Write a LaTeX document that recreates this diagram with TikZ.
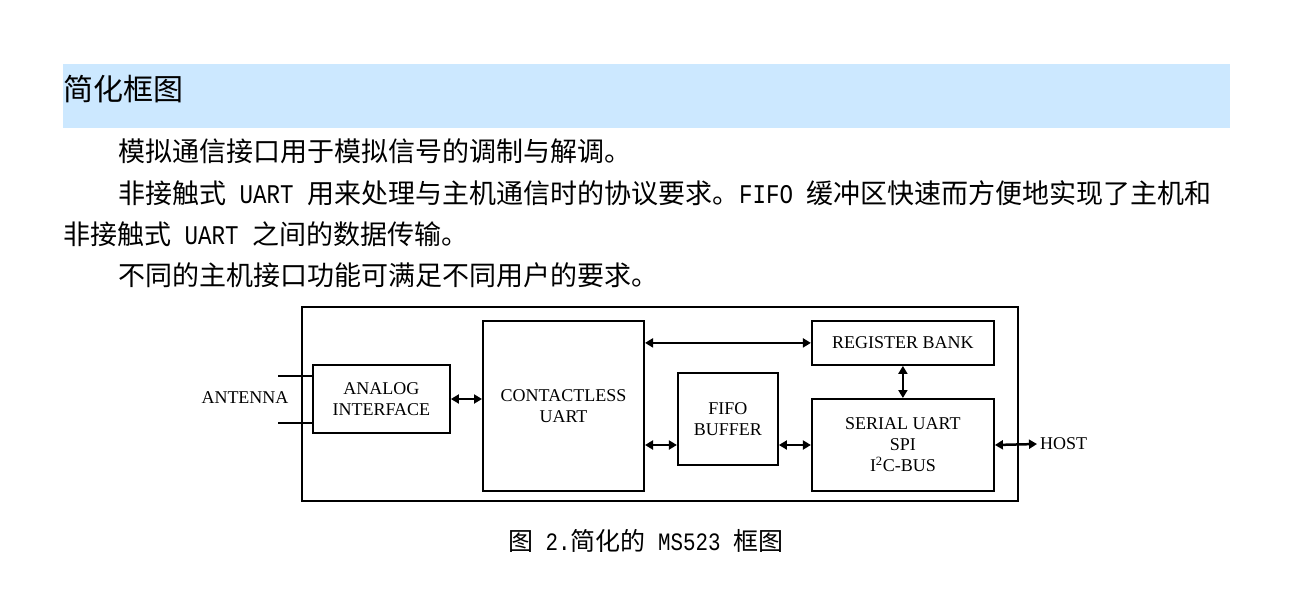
\documentclass[tikz,border=0pt]{standalone}
\usepackage{fontspec}
\setmainfont{Liberation Serif}
\newfontfamily\cjk{Noto Sans CJK SC}
\newfontfamily\halfmono{Liberation Mono}[FakeStretch=0.8333]
\newcommand{\hw}[1]{{\halfmono #1}}
\usetikzlibrary{arrows.meta,positioning}
\definecolor{bandblue}{HTML}{CCE8FF}

\begin{document}
\begin{tikzpicture}[x=1pt, y=-1pt, >={Triangle[length=8pt,width=9pt]},
  blk/.style={draw, line width=2pt, align=center, inner sep=0pt, font=\fontsize{18}{21}\selectfont},
  lnk/.style={<->, line width=2.5pt},
  para/.style={anchor=base west, inner sep=0pt, font=\cjk\fontsize{27}{27}\selectfont}]
  \useasboundingbox (0,0) rectangle (1312,605);
  \fill[bandblue] (63,64) rectangle (1230,128);
  \node[anchor=base west, inner sep=0pt, font=\cjk\fontsize{30}{30}\selectfont] (title) at (63,100) {简化框图};
  \node[para] (l1) at (118,161.6) {模拟通信接口用于模拟信号的调制与解调。};
  \node[para] (l2) at (118,203) {非接触式\hw{\ UART\ }用来处理与主机通信时的协议要求。\hw{FIFO\ }缓冲区快速而方便地实现了主机和};
  \node[para] (l3) at (63,244) {非接触式\hw{\ UART\ }之间的数据传输。};
  \node[para] (l4) at (118,285) {不同的主机接口功能可满足不同用户的要求。};

  \node[draw, line width=2.5pt, minimum width=716pt, minimum height=194pt] (chip) at (660,404) {};
  \node[blk, minimum width=137pt, minimum height=68pt] (analog) at (381.4,399) {ANALOG\\INTERFACE};
  \node[blk, minimum width=161pt, minimum height=170pt] (cuart) at (563.5,405.9) {CONTACTLESS\\UART};
  \node[blk, minimum width=100pt, minimum height=92pt] (fifo) at (727.9,419) {FIFO\\BUFFER};
  \node[blk, minimum width=182pt, minimum height=44pt] (reg) at (902.9,342.9) {REGISTER BANK};
  \node[blk, minimum width=182pt, minimum height=92pt] (serial) at (902.9,445) {SERIAL UART\\SPI\\I\textsuperscript{2}C-BUS};
  \node[font=\fontsize{18}{21}\selectfont] (ant) at (245,398) {ANTENNA};
  \node[anchor=west, inner sep=3pt, font=\fontsize{18}{21}\selectfont] (host) at (1037,444) {HOST};
  \coordinate (antA) at (278,376);
  \coordinate (antB) at (278,422.7);
  \draw[line width=2pt] (antA) -- (antA -| analog.west);
  \draw[line width=2pt] (antB) -- (antB -| analog.west);
  \draw[lnk] (analog.east) -- (analog.east -| cuart.west);
  \draw[lnk] (reg.west -| cuart.east) -- (reg.west);
  \draw[lnk] (serial.west -| cuart.east) -- (serial.west -| fifo.west);
  \draw[lnk] (serial.west -| fifo.east) -- (serial.west);
  \draw[lnk] (reg.south) -- (serial.north);
  \draw[lnk] (serial.east) -- (host.west);

  \node[anchor=base west, inner sep=0pt, font=\cjk\fontsize{25}{25}\selectfont] (caption) at (508,550) {图\hw{\ 2.}简化的\hw{\ MS523\ }框图};
\end{tikzpicture}
\end{document}
